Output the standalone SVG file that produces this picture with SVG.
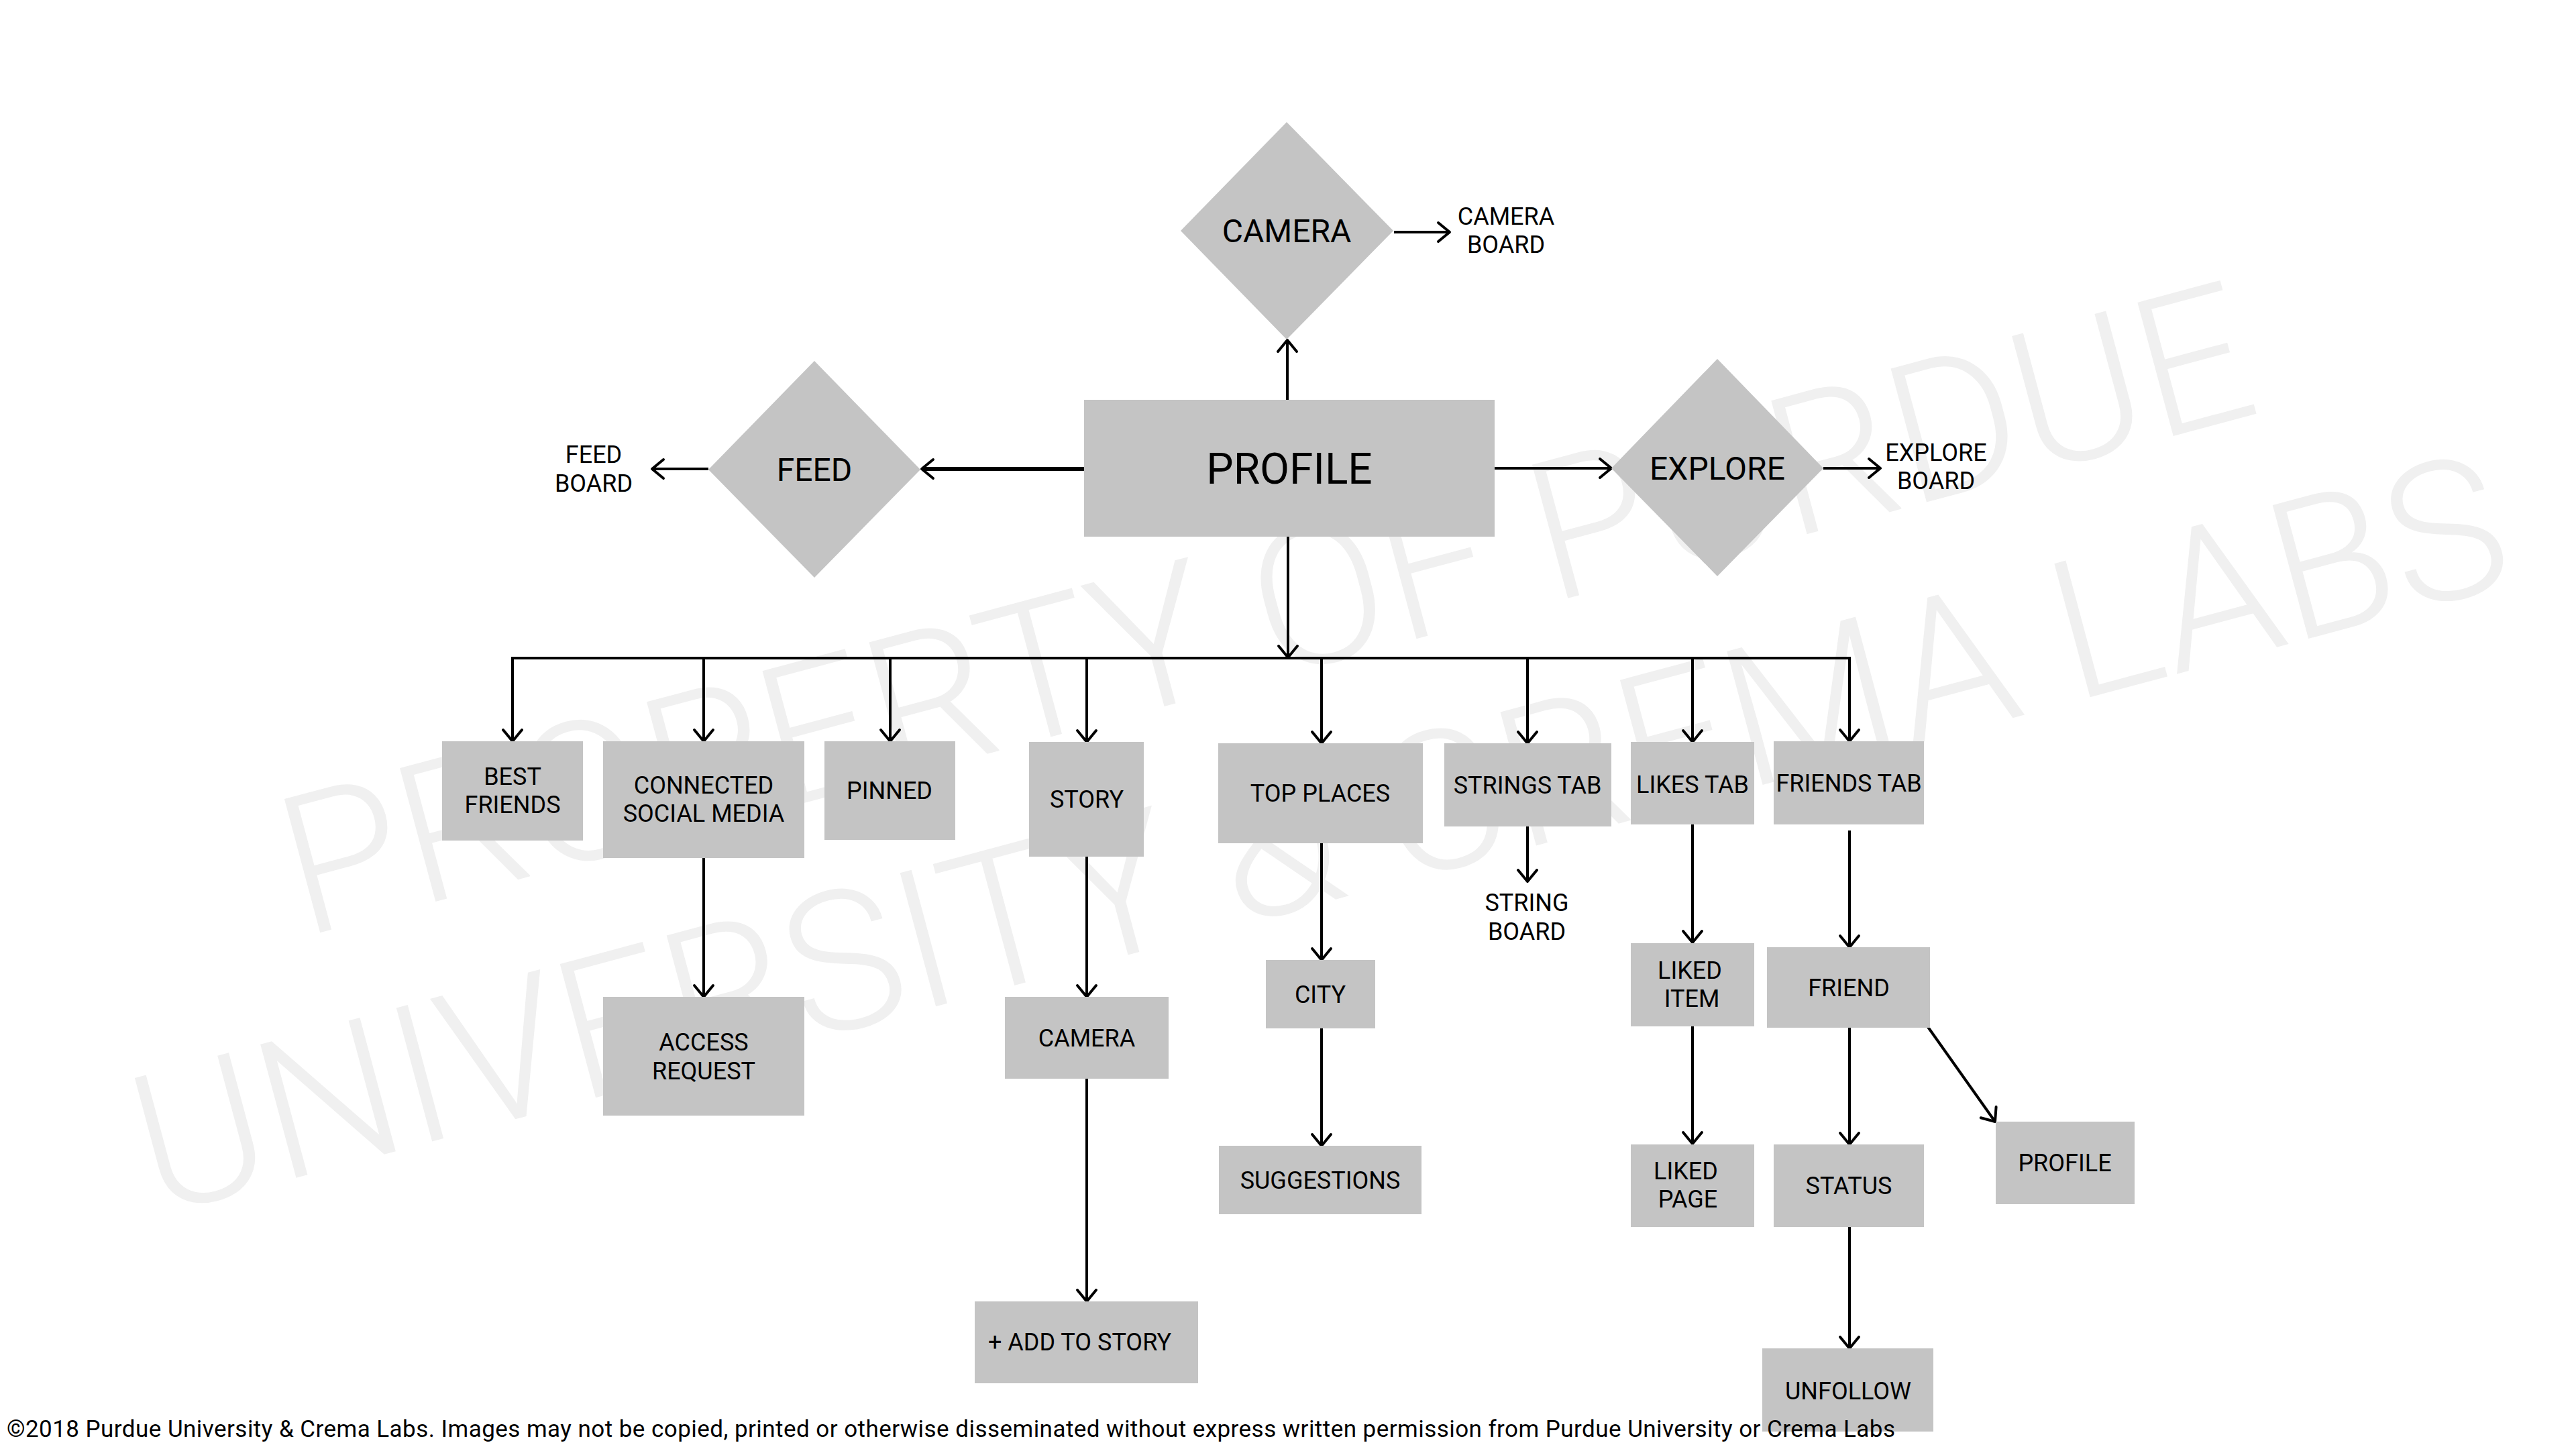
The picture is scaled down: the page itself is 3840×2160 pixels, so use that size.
<svg xmlns="http://www.w3.org/2000/svg" width="3840" height="2160" viewBox="0 0 3840 2160">
<defs>
<style>
.box{fill:#c4c4c4;}
.lbl{font-family:Roboto,"Liberation Sans",sans-serif;font-size:36px;fill:#000;text-anchor:middle;}
.dlbl{font-family:Roboto,"Liberation Sans",sans-serif;font-size:48px;fill:#000;text-anchor:middle;}
.big{font-family:Roboto,"Liberation Sans",sans-serif;font-size:64px;fill:#000;text-anchor:middle;}
.wm{font-family:Roboto,"Liberation Sans",sans-serif;font-size:290px;font-weight:300;fill:#f0f0f0;}
.cr{font-family:Roboto,"Liberation Sans",sans-serif;font-size:35px;fill:#000;}
.ln{fill:none;stroke:#000;stroke-width:4;}
.arr{fill:none;stroke:#000;stroke-width:4;marker-end:url(#ah);}
</style>
<marker id="ah" markerUnits="userSpaceOnUse" markerWidth="26" markerHeight="34" refX="20" refY="17" orient="auto" viewBox="0 0 26 34">
<path d="M3,3 L20,17 L3,31" fill="none" stroke="#000" stroke-width="4" stroke-linejoin="round" stroke-linecap="round"/>
</marker>
</defs>
<rect width="3840" height="2160" fill="#fff"/>
<g id="watermark">
<text class="wm" transform="translate(452,1397) rotate(-15)">PROPERTY OF PURDUE</text>
<text class="wm" transform="translate(232,1812) rotate(-15)">UNIVERSITY &amp; CREMA LABS</text>
</g>
<g id="connectors">
<line class="arr" x1="1919" y1="596" x2="1919" y2="507"/>
<line class="arr" x1="2078" y1="346" x2="2161" y2="346"/>
<line class="arr" x1="1616" y1="699" x2="1374" y2="699" style="stroke-width:6"/>
<line class="arr" x1="1056" y1="699" x2="972" y2="699"/>
<line class="arr" x1="2228" y1="698" x2="2402" y2="698"/>
<line class="arr" x1="2718" y1="698" x2="2803" y2="698"/>
<line class="arr" x1="1920" y1="800" x2="1920" y2="980"/>
<line class="ln" x1="762" y1="981" x2="2759" y2="981"/>
<line class="arr" x1="764" y1="981" x2="764" y2="1105"/>
<line class="arr" x1="1049" y1="981" x2="1049" y2="1105"/>
<line class="arr" x1="1327" y1="981" x2="1327" y2="1105"/>
<line class="arr" x1="1620" y1="981" x2="1620" y2="1106"/>
<line class="arr" x1="1970" y1="981" x2="1970" y2="1108"/>
<line class="arr" x1="2277" y1="981" x2="2277" y2="1108"/>
<line class="arr" x1="2523" y1="981" x2="2523" y2="1106"/>
<line class="arr" x1="2757" y1="981" x2="2757" y2="1105"/>
<line class="arr" x1="1049" y1="1279" x2="1049" y2="1486"/>
<line class="arr" x1="1620" y1="1277" x2="1620" y2="1486"/>
<line class="arr" x1="1620" y1="1608" x2="1620" y2="1940"/>
<line class="arr" x1="1970" y1="1257" x2="1970" y2="1431"/>
<line class="arr" x1="1970" y1="1533" x2="1970" y2="1708"/>
<line class="arr" x1="2277" y1="1232" x2="2277" y2="1314"/>
<line class="arr" x1="2523" y1="1229" x2="2523" y2="1405"/>
<line class="arr" x1="2523" y1="1529" x2="2523" y2="1705"/>
<line class="arr" x1="2757" y1="1238" x2="2757" y2="1412"/>
<line class="arr" x1="2757" y1="1532" x2="2757" y2="1706"/>
<line class="arr" x1="2874" y1="1531" x2="2974" y2="1672"/>
<line class="arr" x1="2757" y1="1829" x2="2757" y2="2010"/>
</g>
<g id="camera"><polygon class="box" points="1918,182 2077,344 1918,506 1760,344"/><text class="dlbl" x="1918" y="361">CAMERA</text></g>
<g id="camera-board"><text class="lbl" x="2245" y="335">CAMERA</text><text class="lbl" x="2245" y="377">BOARD</text></g>
<g id="feed"><polygon class="box" points="1214,538 1372,700 1214,861 1056,700"/><text class="dlbl" x="1214" y="717">FEED</text></g>
<g id="feed-board"><text class="lbl" x="885" y="690">FEED</text><text class="lbl" x="885" y="733">BOARD</text></g>
<g id="explore"><polygon class="box" points="2560,535 2718,698 2560,859 2402,698"/><text class="dlbl" x="2560" y="715">EXPLORE</text></g>
<g id="explore-board"><text class="lbl" x="2886" y="687">EXPLORE</text><text class="lbl" x="2886" y="729">BOARD</text></g>
<g id="profile"><rect class="box" x="1616" y="596" width="612" height="204"/><text class="big" x="1922" y="721">PROFILE</text></g>
<g id="best-friends"><rect class="box" x="659" y="1105" width="210" height="148"/><text class="lbl" x="764" y="1170">BEST</text><text class="lbl" x="764" y="1212">FRIENDS</text></g>
<g id="connected-social-media"><rect class="box" x="899" y="1105" width="300" height="174"/><text class="lbl" x="1049" y="1183">CONNECTED</text><text class="lbl" x="1049" y="1225">SOCIAL MEDIA</text></g>
<g id="pinned"><rect class="box" x="1229" y="1105" width="195" height="147"/><text class="lbl" x="1326" y="1191">PINNED</text></g>
<g id="story"><rect class="box" x="1534" y="1106" width="171" height="171"/><text class="lbl" x="1620" y="1204">STORY</text></g>
<g id="top-places"><rect class="box" x="1816" y="1108" width="305" height="149"/><text class="lbl" x="1968" y="1195">TOP PLACES</text></g>
<g id="strings-tab"><rect class="box" x="2153" y="1108" width="249" height="124"/><text class="lbl" x="2277" y="1183">STRINGS TAB</text></g>
<g id="string-board"><text class="lbl" x="2276" y="1358">STRING</text><text class="lbl" x="2276" y="1401">BOARD</text></g>
<g id="likes-tab"><rect class="box" x="2431" y="1106" width="184" height="123"/><text class="lbl" x="2523" y="1182">LIKES TAB</text></g>
<g id="friends-tab"><rect class="box" x="2644" y="1105" width="224" height="124"/><text class="lbl" x="2756" y="1180">FRIENDS TAB</text></g>
<g id="access-request"><rect class="box" x="899" y="1486" width="300" height="177"/><text class="lbl" x="1049" y="1566">ACCESS</text><text class="lbl" x="1049" y="1609">REQUEST</text></g>
<g id="story-camera"><rect class="box" x="1498" y="1486" width="244" height="122"/><text class="lbl" x="1620" y="1560">CAMERA</text></g>
<g id="add-to-story"><rect class="box" x="1453" y="1940" width="333" height="122"/><text class="lbl" x="1473" y="2013" style="text-anchor:start">+ ADD TO STORY</text></g>
<g id="city"><rect class="box" x="1887" y="1431" width="163" height="102"/><text class="lbl" x="1968" y="1495">CITY</text></g>
<g id="suggestions"><rect class="box" x="1817" y="1708" width="302" height="102"/><text class="lbl" x="1968" y="1772">SUGGESTIONS</text></g>
<g id="liked-item"><rect class="box" x="2431" y="1406" width="184" height="124"/><text class="lbl" x="2519" y="1459">LIKED</text><text class="lbl" x="2522" y="1501">ITEM</text></g>
<g id="liked-page"><rect class="box" x="2431" y="1706" width="184" height="123"/><text class="lbl" x="2513" y="1758">LIKED</text><text class="lbl" x="2516" y="1800">PAGE</text></g>
<g id="friend"><rect class="box" x="2634" y="1412" width="243" height="120"/><text class="lbl" x="2756" y="1485">FRIEND</text></g>
<g id="status"><rect class="box" x="2644" y="1706" width="224" height="123"/><text class="lbl" x="2756" y="1780">STATUS</text></g>
<g id="friend-profile"><rect class="box" x="2975" y="1672" width="207" height="123"/><text class="lbl" x="3078" y="1746">PROFILE</text></g>
<g id="unfollow"><rect class="box" x="2627" y="2010" width="255" height="124"/><text class="lbl" x="2755" y="2086">UNFOLLOW</text></g>
<text class="cr" x="10" y="2142" textLength="2815" lengthAdjust="spacing">©2018 Purdue University &amp; Crema Labs. Images may not be copied, printed or otherwise disseminated without express written permission from Purdue University or Crema Labs</text>
</svg>
